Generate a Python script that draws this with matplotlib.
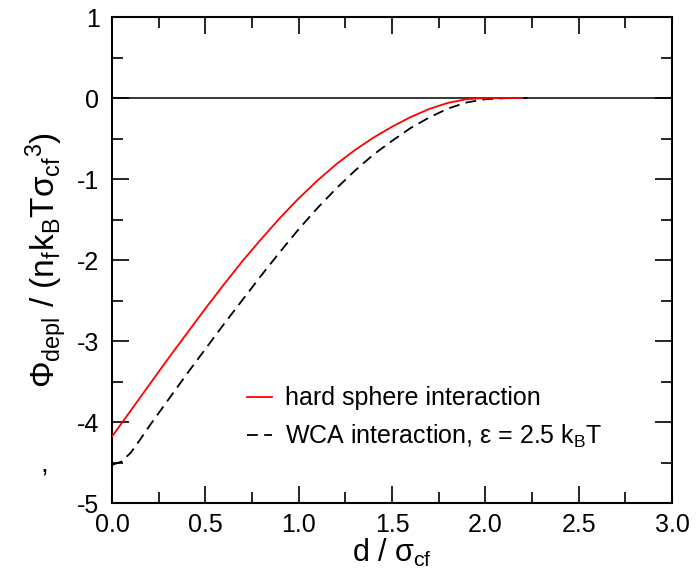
import matplotlib
matplotlib.use("Agg")
import matplotlib.pyplot as plt
from matplotlib.ticker import MultipleLocator

plt.rcParams['font.family'] = ['Liberation Sans', 'DejaVu Sans']
plt.rcParams['mathtext.fontset'] = 'custom'
plt.rcParams['mathtext.rm'] = 'Liberation Sans'
plt.rcParams['mathtext.it'] = 'Liberation Sans'
plt.rcParams['mathtext.bf'] = 'Liberation Sans:bold'
plt.rcParams['axes.unicode_minus'] = False

# ---- data ----
d_hs = [0.0, 0.1, 0.2, 0.3, 0.4, 0.5, 0.6, 0.7, 0.8, 0.9, 1.0, 1.1, 1.2,
        1.3, 1.4, 1.5, 1.6, 1.7, 1.8, 1.9, 2.0, 2.1, 2.2]
phi_hs = [-4.18, -3.86, -3.54, -3.22, -2.91, -2.60, -2.30, -2.01, -1.74, -1.48,
          -1.24, -1.02, -0.82, -0.645, -0.49, -0.355, -0.235, -0.135, -0.06,
          -0.015, 0.0, 0.0, 0.0]

d_wca = [0.0, 0.05, 0.1, 0.15, 0.2, 0.3, 0.4, 0.5, 0.6, 0.7, 0.8, 0.9, 1.0,
         1.1, 1.2, 1.3, 1.4, 1.5, 1.6, 1.7, 1.8, 1.9, 2.0, 2.1, 2.2, 2.25]
phi_wca = [-4.53, -4.49, -4.38, -4.22, -4.05, -3.73, -3.41, -3.10, -2.79, -2.49,
           -2.19, -1.90, -1.62, -1.36, -1.12, -0.90, -0.70, -0.53, -0.37, -0.24,
           -0.13, -0.055, -0.015, -0.002, 0.0, 0.0]

label_hs = 'hard sphere interaction'
label_wca = r'WCA interaction, ε = 2.5 k$_{\rm B}$T'
xticks = [0.0, 0.5, 1.0, 1.5, 2.0, 2.5, 3.0]
yticks = [1, 0, -1, -2, -3, -4, -5]

fig = plt.figure(figsize=(6.96, 5.82), dpi=100)
ax = fig.add_axes([112/696, 1-503/582, 560/696, 486/582])

ax.axhline(0, color='black', lw=1.1, zorder=1)
ax.plot(d_hs, phi_hs, color='#ff0000', lw=1.3, label=label_hs, zorder=3)
ax.plot(d_wca, phi_wca, color='black', lw=1.3, dashes=(6, 3.5),
        label=label_wca, zorder=2)

ax.set_xlim(0, 3)
ax.set_ylim(-5, 1)
ax.set_xticks(xticks)
ax.set_xticklabels(['%.1f' % v for v in xticks])
ax.set_yticks(yticks)
ax.set_yticklabels(['%d' % v for v in yticks])
ax.xaxis.set_minor_locator(MultipleLocator(0.25))
ax.yaxis.set_minor_locator(MultipleLocator(0.5))
ax.tick_params(which='both', direction='in', top=True, right=True,
               labelsize=18, width=1.2, pad=7)
ax.tick_params(which='major', length=12)
ax.tick_params(which='minor', length=8)
ax.tick_params(axis='y', pad=9)
for s in ax.spines.values():
    s.set_linewidth(1.5)

ax.set_xlabel(r'd / $\sigma_{\rm cf}$', fontsize=22, labelpad=0)
ax.set_ylabel(r'$\Phi_{\rm depl}$ / (n$_{\rm f}$k$_{\rm B}$T$\sigma_{\rm cf}$$^{3}$)',
              fontsize=24, labelpad=6)

leg = ax.legend(loc='upper left', bbox_to_anchor=(0.241, 0.24), frameon=False,
                fontsize=18, handlelength=1.0, handletextpad=0.52,
                labelspacing=0.5, borderaxespad=0, borderpad=0)

fig.text(40/696, 1-473/582, ',', fontsize=20)

fig.savefig('out.png', dpi=100)
